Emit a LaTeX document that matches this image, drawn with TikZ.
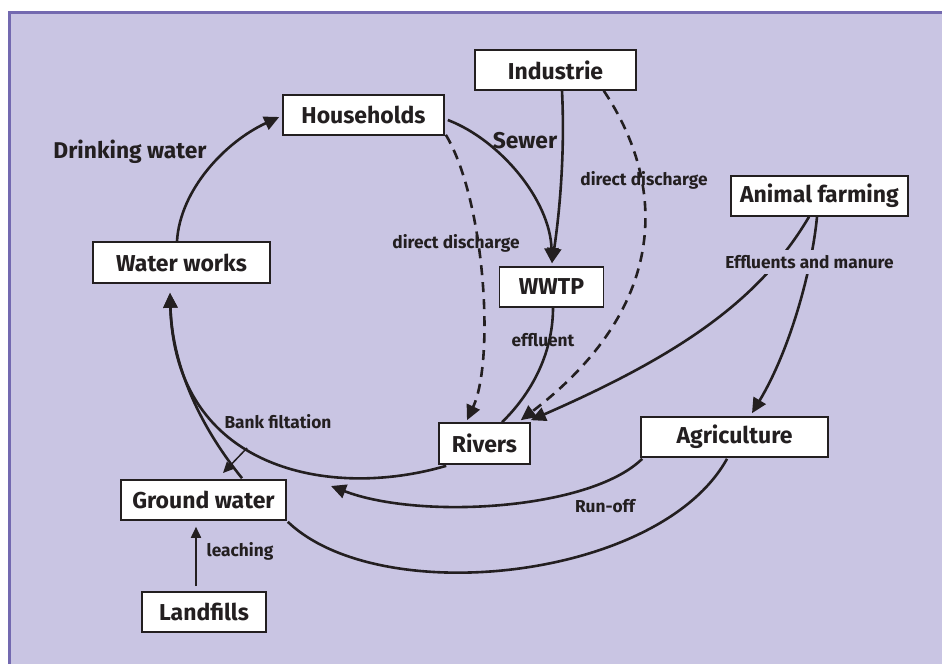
\documentclass[tikz,border=0pt]{standalone}
\usepackage{fontspec}
\setmainfont{Fira Sans}
\usetikzlibrary{arrows.meta,calc}
\definecolor{bgfill}{HTML}{C9C5E3}
\definecolor{bgline}{HTML}{7369B0}
\definecolor{ink}{HTML}{231F20}
\begin{document}
\begin{tikzpicture}[x=1pt,y=-1pt,
  box/.style={draw=ink,fill=white,line width=1.6pt,inner sep=0pt,
    font=\fontsize{23}{25}\selectfont\bfseries,text=ink},
  flow/.style={draw=ink,line width=2.6pt},
  tip/.style={-{Triangle[length=15pt,width=14pt]}},
  smalltip/.style={-{Triangle[length=11pt,width=10pt]}},
  dashflow/.style={draw=ink,line width=2.6pt,dash pattern=on 10pt off 7pt},
  biglab/.style={font=\fontsize{22.8}{25}\selectfont\bfseries,text=ink,inner sep=0pt},
  smalllab/.style={font=\fontsize{17.3}{19}\selectfont\bfseries,text=ink,inner sep=0pt},
]
\useasboundingbox (0,0) rectangle (942,664);
\fill[white] (0,0) rectangle (942,664);
\fill[bgfill] (9.5,12.5) rectangle (942,664);
\draw[bgline,line width=3pt] (9.5,664) -- (9.5,12.5) -- (942,12.5);

% nodes
\node[box,minimum width=161pt,minimum height=40pt] (hh) at (363.5,115) {Households};
\node[box,minimum width=177pt,minimum height=41pt] (ww) at (181.5,262.5) {Water works};
\node[box,minimum width=161pt,minimum height=40pt] (ind) at (555.5,70) {Industrie};
\node[box,minimum width=177pt,minimum height=40pt] (af) at (819.5,196) {Animal farming};
\node[box,minimum width=104pt,minimum height=40pt] (wwtp) at (551.5,287) {WWTP};
\node[box,minimum width=91pt,minimum height=41pt] (riv) at (484.5,443.5) {Rivers};
\node[box,minimum width=187pt,minimum height=40pt] (agr) at (734.5,437) {Agriculture};
\node[box,minimum width=165pt,minimum height=40pt] (gw) at (203.5,500) {Ground water};
\node[box,minimum width=124pt,minimum height=40pt] (lf) at (204,612) {Landfills};

% connectors
\draw[flow,tip] ($(ww.north)+(-4.5,0)$) .. controls (180,190) and (225,142) .. ($(hh.west)+(-3,2)$);
\draw[flow,tip] ($(hh.east)+(3,5)$) .. controls (500,140) and (550,200) .. ($(wwtp.north)+(0.5,-3)$);
\draw[flow,tip] ($(ind.south)+(6.5,0)$) .. controls (565,150) and (560,210) .. ($(wwtp.north)+(0.5,-3)$);
\draw[dashflow,tip] ($(hh.south east)+(1,-1)$) .. controls (485,200) and (495,360) .. ($(riv.north)+(-17.5,-2)$);
\draw[dashflow,tip] ($(ind.south east)+(-33,0)$) .. controls (670,190) and (665,310) .. ($(riv.north east)+(-10,-2)$);
\draw[flow] ($(wwtp.south)+(1.5,0)$) .. controls (553,355) and (530,395) .. ($(riv.north)+(17.5,0)$);
\draw[flow,tip] ($(af.south)+(-10.5,0)$) .. controls (760,300) and (680,355) .. ($(riv.north east)+(0,-2)$);
\draw[flow,tip] ($(af.south)+(-2.5,0)$) .. controls (812,270) and (790,350) .. ($(agr.north)+(17.5,-3)$);
\draw[flow,tip] ($(riv.south west)+(8,1)$) .. controls (330,500) and (175,470) .. ($(ww.south)+(-11.5,9)$);
\draw[flow,tip] ($(gw.north)+(38.5,-1)$) .. controls (195,420) and (172,360) .. ($(ww.south)+(-11.5,9)$);
\coordinate (bf) at (247,448);
\draw[ink,line width=1.5pt,smalltip] (bf) -- (223,473);
\draw[flow,tip] ($(agr.south west)+(2,1)$) .. controls (590,510) and (420,520) .. (331,486);
\draw[flow] ($(agr.south)+(-7.5,1)$) .. controls (660,580) and (380,610) .. ($(gw.south east)+(1,1)$);
\draw[ink,line width=1.8pt,smalltip] ($(lf.north)+(-8,-5)$) -- ($(gw.south)+(-7.5,6)$);

% labels
\node[biglab] at (130,152) {Drinking water};
\node[biglab] at (525,141) {Sewer};
\node[smalllab] at (456,243) {direct discharge};
\node[smalllab] at (644,180) {direct discharge};
\node[smalllab] at (543,340) {effluent};
\node[smalllab,fill=bgfill,inner ysep=5pt,inner xsep=2pt] at (809.5,262) {Effluents and manure};
\node[smalllab] at (278,422) {Bank filtation};
\node[smalllab] at (605,506) {Run-off};
\node[smalllab] at (240,551) {leaching};
\end{tikzpicture}
\end{document}
